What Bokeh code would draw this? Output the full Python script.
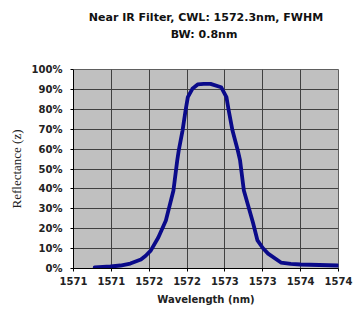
from bokeh.plotting import figure
from bokeh.models import FixedTicker, Title, Range1d, LinearAxis
from bokeh.embed import file_html
from bokeh.resources import INLINE

# ---- data ----
wavelength = [1570.88, 1571.09, 1571.22, 1571.35, 1571.49, 1571.55, 1571.62, 1571.72,
              1571.82, 1571.92, 1571.97, 1571.99, 1572.04, 1572.08, 1572.11, 1572.17,
              1572.24, 1572.32, 1572.41, 1572.55, 1572.62, 1572.65, 1572.70, 1572.77,
              1572.80, 1572.85, 1572.97, 1573.03, 1573.10, 1573.17, 1573.34, 1573.47,
              1573.60, 1574.09]
reflectance = [0.5, 1.0, 1.5, 2.5, 4.5, 6.3, 9.0, 15.6,
               24.1, 39.2, 54.3, 59.3, 69.3, 79.4, 86.1, 90.3,
               92.5, 92.8, 92.8, 91.1, 86.1, 79.4, 69.3, 59.3,
               54.3, 39.2, 23.1, 14.1, 10.3, 7.5, 3.0, 2.3,
               2.0, 1.5]

x_ticks = [1570.6, 1571.1, 1571.6, 1572.1, 1572.6, 1573.1, 1573.6, 1574.1]
x_tick_labels = ["1571", "1571", "1572", "1572", "1573", "1573", "1574", "1574"]
y_ticks = [0, 10, 20, 30, 40, 50, 60, 70, 80, 90, 100]
y_tick_labels = ["0%", "10%", "20%", "30%", "40%", "50%", "60%", "70%", "80%", "90%", "100%"]

title_line1 = "Near IR Filter, CWL: 1572.3nm, FWHM"
title_line2 = "BW:  0.8nm"
x_label = "Wavelength (nm)"
y_label = "Reflectance (z)"

p = figure(width=364, height=317, output_backend="svg", toolbar_location=None,
           x_range=Range1d(x_ticks[0], x_ticks[-1]), y_range=Range1d(0, 100),
           min_border_left=73, min_border_right=26, min_border_top=69, min_border_bottom=49)
p.title = None
p.background_fill_color = "#c0c0c0"
p.border_fill_color = "white"
p.outline_line_color = "#606060"

xa = p.below[0]
ya = p.left[0]

p.line(wavelength, reflectance, line_color="#0a0a8a", line_width=3.8,
       line_join="round", line_cap="round")

# spacer between the frame and the title lines: an axis whose single tick is
# white on the white border (invisible) and whose label is empty
spacer = LinearAxis(ticker=FixedTicker(ticks=[x_ticks[0]]), axis_line_color=None,
                    major_tick_line_color="white", minor_tick_line_color=None,
                    major_tick_out=28, major_tick_in=0, minor_tick_out=0, minor_tick_in=0,
                    major_label_overrides={x_ticks[0]: ""}, major_label_standoff=0,
                    major_label_text_color=None)
p.add_layout(spacer, "above")

t2 = Title(text=title_line2, align="center", offset=-26, text_font="DejaVu Sans",
           text_font_style="bold", text_font_size="11px", text_color="#111111", standoff=2)
t1 = Title(text=title_line1, align="center", offset=-30, text_font="DejaVu Sans",
           text_font_style="bold", text_font_size="11px", text_color="#111111", standoff=2)
p.add_layout(t2, "above")
p.add_layout(t1, "above")

# axes
xa.ticker = FixedTicker(ticks=x_ticks)
xa.major_label_overrides = {t: l for t, l in zip(x_ticks, x_tick_labels)}
ya.ticker = FixedTicker(ticks=y_ticks)
ya.major_label_overrides = {t: l for t, l in zip(y_ticks, y_tick_labels)}

for ax in (xa, ya):
    ax.axis_line_color = "black"
    ax.major_tick_line_color = "black"
    ax.major_tick_out = 3
    ax.major_tick_in = 0
    ax.minor_tick_line_color = None
    ax.major_label_text_font = "DejaVu Sans"
    ax.major_label_text_font_style = "bold"
    ax.major_label_text_font_size = "10px"
    ax.major_label_text_color = "#222222"

xa.axis_label = x_label
xa.axis_label_text_font = "DejaVu Sans"
xa.axis_label_text_font_style = "bold"
xa.axis_label_text_font_size = "10px"
xa.axis_label_text_color = "#222222"
xa.major_label_standoff = 5
xa.axis_label_standoff = 6

ya.axis_label = y_label
ya.axis_label_text_font = "Liberation Serif"
ya.axis_label_text_font_style = "normal"
ya.axis_label_text_font_size = "13px"
ya.axis_label_text_color = "#222222"
ya.major_label_standoff = 8
ya.axis_label_standoff = 5

p.xgrid.ticker = FixedTicker(ticks=x_ticks)
p.ygrid.ticker = FixedTicker(ticks=y_ticks)
p.grid.grid_line_color = "#404040"
p.grid.grid_line_width = 1
p.grid.grid_line_alpha = 1.0

open("out.html", "w").write(file_html(p, INLINE))
